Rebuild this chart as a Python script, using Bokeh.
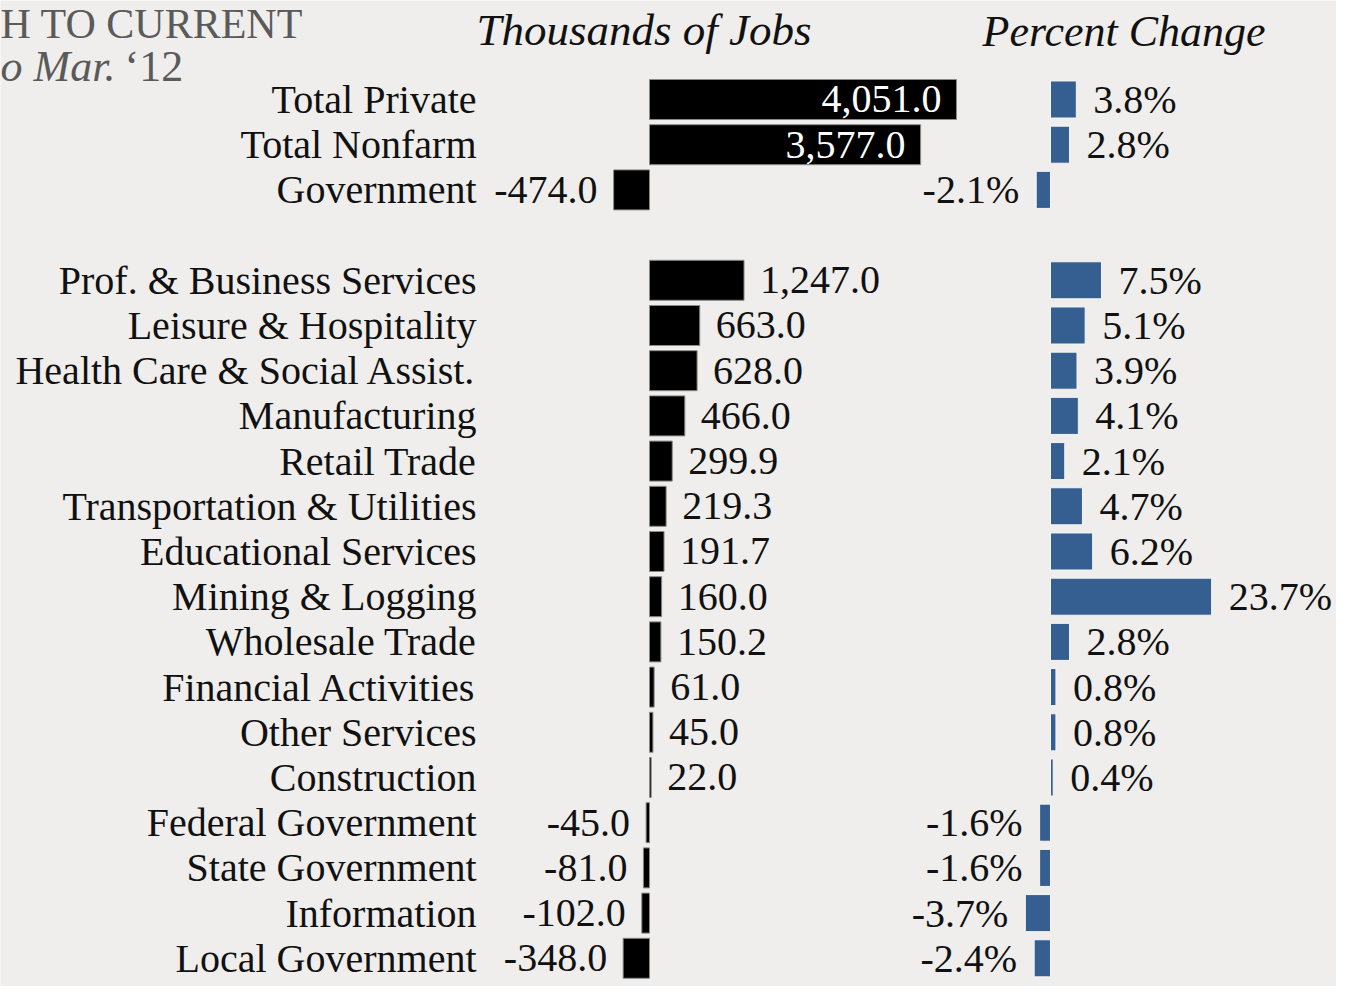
from bokeh.plotting import figure
from bokeh.models import Range1d, ColumnDataSource, Label
from bokeh.embed import file_html
from bokeh.resources import INLINE
from bokeh.core.properties import value

# ---- data ----
categories = [
    "Total Private", "Total Nonfarm", "Government",
    "Prof. & Business Services", "Leisure & Hospitality", "Health Care & Social Assist.",
    "Manufacturing", "Retail Trade", "Transportation & Utilities", "Educational Services",
    "Mining & Logging", "Wholesale Trade", "Financial Activities", "Other Services",
    "Construction", "Federal Government", "State Government", "Information",
    "Local Government",
]
jobs = [4051.0, 3577.0, -474.0, 1247.0, 663.0, 628.0, 466.0, 299.9, 219.3, 191.7,
        160.0, 150.2, 61.0, 45.0, 22.0, -45.0, -81.0, -102.0, -348.0]
pct = [3.8, 2.8, -2.1, 7.5, 5.1, 3.9, 4.1, 2.1, 4.7, 6.2,
       23.7, 2.8, 0.8, 0.8, 0.4, -1.6, -1.6, -3.7, -2.4]
title_line1 = "H TO CURRENT"
title_line2a = "o Mar."
title_line2b = "\u201812"
header_jobs = "Thousands of Jobs"
header_pct = "Percent Change"

# ---- layout ----
W, H = 1336, 986
BG = "#efeeec"
SERIF = value("Liberation Serif")
BLUE = "#365f91"
INK = "#111111"
GRAY = "#5a5a5a"
rows = [i if i < 3 else i + 1 for i in range(len(categories))]  # blank row after Government

src = ColumnDataSource(dict(
    row=rows, cat=categories, jobs=jobs, pct=pct,
    jobs_lbl=[f"{v:,.1f}" for v in jobs],
    pct_lbl=[f"{v:.1f}%" for v in pct],
))

def sub(cond):
    idx = [i for i in range(len(categories)) if cond(i)]
    return ColumnDataSource({k: [src.data[k][i] for i in idx] for k in src.data})

p = figure(width=W, height=H, output_backend="svg", toolbar_location=None,
           x_range=Range1d(-8564, 9065), y_range=Range1d(19.624, -2.190),
           x_axis_location=None, y_axis_location=None,
           min_border=0, outline_line_color=None,
           background_fill_color=BG, border_fill_color=BG)
p.grid.visible = False
p.extra_x_ranges = {"pct": Range1d(-154.41, 42.06)}

# jobs bars
p.hbar(y="row", left=0, right="jobs", height=0.885, source=src,
       fill_color="black", line_color="#8a8a8a", line_width=1)
# percent bars
p.hbar(y="row", left=0, right="pct", height=0.82, source=src, x_range_name="pct",
       fill_color=BLUE, line_color="#f6f6f6", line_width=1)

common = dict(text_font=SERIF, text_font_size="40px", text_baseline="middle")

# category labels
p.text(x=0, y="row", text="cat", source=src, x_offset=-173, text_align="right",
       text_color=INK, **common)

# jobs value labels
big = sub(lambda i: jobs[i] > 3000)
posj = sub(lambda i: 0 <= jobs[i] <= 3000)
negj = sub(lambda i: jobs[i] < 0)
p.text(x="jobs", y="row", text="jobs_lbl", source=big, x_offset=-15,
       text_align="right", text_color="white", **common)
p.text(x="jobs", y="row", text="jobs_lbl", source=posj, x_offset=16,
       text_align="left", text_color=INK, **common)
p.text(x="jobs", y="row", text="jobs_lbl", source=negj, x_offset=-16,
       text_align="right", text_color=INK, **common)

# percent value labels
posp = sub(lambda i: pct[i] >= 0)
negp = sub(lambda i: pct[i] < 0)
p.text(x="pct", y="row", text="pct_lbl", source=posp, x_offset=17, x_range_name="pct",
       text_align="left", text_color=INK, **common)
p.text(x="pct", y="row", text="pct_lbl", source=negp, x_offset=-17, x_range_name="pct",
       text_align="right", text_color=INK, **common)

def label(txt, x, y_from_top, size, color, style="normal"):
    p.add_layout(Label(x=x, y=H - y_from_top, x_units="screen", y_units="screen", text=txt,
                       text_font="Liberation Serif", text_font_style=style,
                       text_font_size=size, text_color=color, text_baseline="middle"))

# headers
label(header_jobs, 476, 29, "45px", INK, "italic")
label(header_pct, 982, 31, "44px", INK, "italic")

# title fragments
label(title_line1, 0, 23, "42px", GRAY)
label(title_line2a, 0, 66, "44px", GRAY, "italic")
label(title_line2b, 124, 66, "44px", GRAY)

html = file_html(p, INLINE)
html = html.replace("<body>", '<body style="background:%s">' % BG, 1)
open("out.html", "w").write(html)
